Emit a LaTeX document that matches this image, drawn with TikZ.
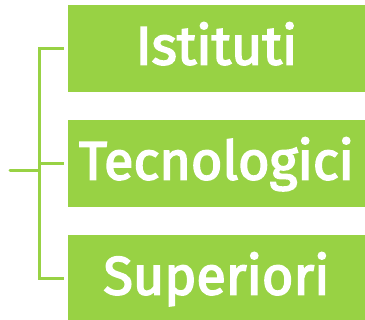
\documentclass[tikz,border=0pt]{standalone}
\usepackage{fontspec}
\newfontfamily\lblfont{Fira Sans}[FakeBold=3]
\definecolor{lgreen}{RGB}{152,210,68}
\begin{document}
\begin{tikzpicture}[x=1pt,y=-1pt,
  box/.style={fill=lgreen,minimum width=297pt,minimum height=87pt,inner sep=0pt,
    text height=40pt,text depth=8pt,
    text=white,font=\lblfont\fontsize{54}{60}\selectfont},
  bracket/.style={draw=lgreen,line width=3pt}]
\useasboundingbox (0,0) rectangle (365,320);
\node[box] (b1) at (216.5,48.5) {Istituti};
\node[box] (b2) at (216.5,163.5) {Tecnologici};
\node[box] (b3) at (216.5,278.5) {Superiori};
\coordinate (bx) at (39,0);
\coordinate (in) at (10,171);
\draw[bracket] ([xshift=-4pt]b1.west) -| (bx |- b3.west) -- ([xshift=-4pt]b3.west);
\draw[bracket] (bx |- b2.west) -- ([xshift=-4pt]b2.west);
\draw[bracket,line cap=round] (in) -- (bx |- in);
\end{tikzpicture}
\end{document}
